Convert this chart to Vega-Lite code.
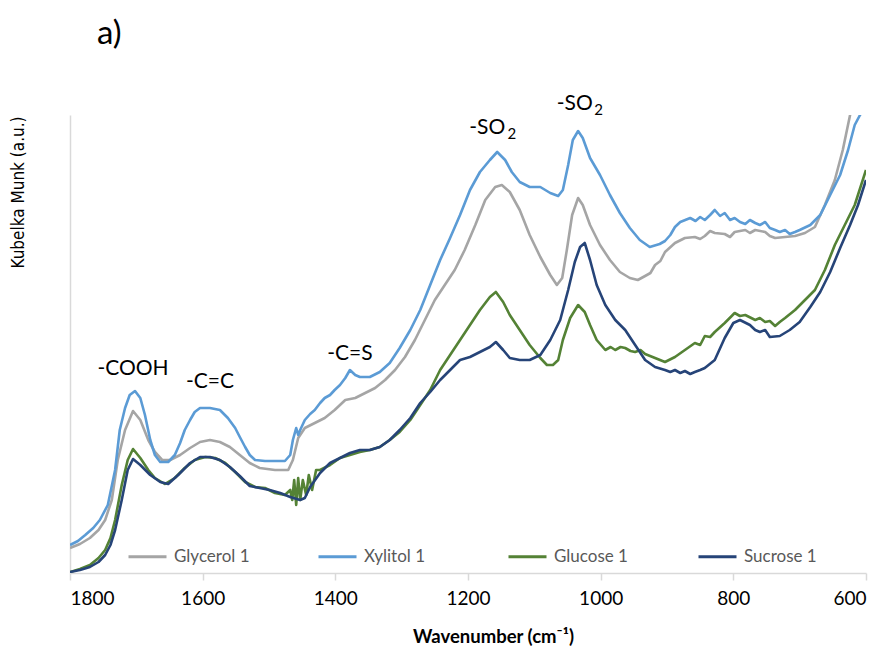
{
  "$schema": "https://vega.github.io/schema/vega-lite/v6.json",
  "width": 796,
  "height": 458,
  "autosize": {"type": "none"},
  "padding": {"left": 70, "top": 115, "right": 19, "bottom": 73},
  "background": "white",
  "title": {
    "text": "a)",
    "anchor": "start",
    "frame": "group",
    "dx": 27,
    "offset": 42,
    "fontSize": 33,
    "fontWeight": "normal",
    "font": "Lato, sans-serif",
    "color": "#000000"
  },
  "config": {
    "view": {"stroke": null},
    "font": "Lato, sans-serif"
  },
  "datasets": {
    "spectra": [
      {"s": "Glycerol 1", "wn": 1800, "km": 25}, {"s": "Glycerol 1", "wn": 1785, "km": 29}, {"s": "Glycerol 1", "wn": 1770, "km": 35}, {"s": "Glycerol 1", "wn": 1757, "km": 43}, {"s": "Glycerol 1", "wn": 1747, "km": 53}, {"s": "Glycerol 1", "wn": 1737, "km": 73}, {"s": "Glycerol 1", "wn": 1728, "km": 113}, {"s": "Glycerol 1", "wn": 1717, "km": 143}, {"s": "Glycerol 1", "wn": 1705, "km": 162}, {"s": "Glycerol 1", "wn": 1694, "km": 153}, {"s": "Glycerol 1", "wn": 1682, "km": 133}, {"s": "Glycerol 1", "wn": 1672, "km": 121}, {"s": "Glycerol 1", "wn": 1661, "km": 113}, {"s": "Glycerol 1", "wn": 1649, "km": 113}, {"s": "Glycerol 1", "wn": 1634, "km": 118}, {"s": "Glycerol 1", "wn": 1619, "km": 125}, {"s": "Glycerol 1", "wn": 1604, "km": 131}, {"s": "Glycerol 1", "wn": 1589, "km": 133}, {"s": "Glycerol 1", "wn": 1574, "km": 131}, {"s": "Glycerol 1", "wn": 1559, "km": 126}, {"s": "Glycerol 1", "wn": 1544, "km": 118}, {"s": "Glycerol 1", "wn": 1529, "km": 110}, {"s": "Glycerol 1", "wn": 1514, "km": 105}, {"s": "Glycerol 1", "wn": 1491, "km": 103}, {"s": "Glycerol 1", "wn": 1471, "km": 103}, {"s": "Glycerol 1", "wn": 1464, "km": 113}, {"s": "Glycerol 1", "wn": 1456, "km": 135}, {"s": "Glycerol 1", "wn": 1446, "km": 145}, {"s": "Glycerol 1", "wn": 1431, "km": 150}, {"s": "Glycerol 1", "wn": 1416, "km": 155}, {"s": "Glycerol 1", "wn": 1401, "km": 163}, {"s": "Glycerol 1", "wn": 1385, "km": 173}, {"s": "Glycerol 1", "wn": 1370, "km": 175}, {"s": "Glycerol 1", "wn": 1355, "km": 180}, {"s": "Glycerol 1", "wn": 1340, "km": 185}, {"s": "Glycerol 1", "wn": 1325, "km": 193}, {"s": "Glycerol 1", "wn": 1310, "km": 203}, {"s": "Glycerol 1", "wn": 1295, "km": 216}, {"s": "Glycerol 1", "wn": 1280, "km": 233}, {"s": "Glycerol 1", "wn": 1265, "km": 253}, {"s": "Glycerol 1", "wn": 1250, "km": 273}, {"s": "Glycerol 1", "wn": 1235, "km": 288}, {"s": "Glycerol 1", "wn": 1220, "km": 303}, {"s": "Glycerol 1", "wn": 1205, "km": 323}, {"s": "Glycerol 1", "wn": 1189, "km": 348}, {"s": "Glycerol 1", "wn": 1174, "km": 373}, {"s": "Glycerol 1", "wn": 1159, "km": 386}, {"s": "Glycerol 1", "wn": 1149, "km": 388}, {"s": "Glycerol 1", "wn": 1137, "km": 381}, {"s": "Glycerol 1", "wn": 1122, "km": 363}, {"s": "Glycerol 1", "wn": 1107, "km": 338}, {"s": "Glycerol 1", "wn": 1091, "km": 316}, {"s": "Glycerol 1", "wn": 1076, "km": 298}, {"s": "Glycerol 1", "wn": 1066, "km": 288}, {"s": "Glycerol 1", "wn": 1058, "km": 295}, {"s": "Glycerol 1", "wn": 1051, "km": 323}, {"s": "Glycerol 1", "wn": 1043, "km": 358}, {"s": "Glycerol 1", "wn": 1034, "km": 375}, {"s": "Glycerol 1", "wn": 1027, "km": 368}, {"s": "Glycerol 1", "wn": 1016, "km": 348}, {"s": "Glycerol 1", "wn": 1001, "km": 328}, {"s": "Glycerol 1", "wn": 986, "km": 313}, {"s": "Glycerol 1", "wn": 971, "km": 301}, {"s": "Glycerol 1", "wn": 956, "km": 295}, {"s": "Glycerol 1", "wn": 944, "km": 293}, {"s": "Glycerol 1", "wn": 933, "km": 297}, {"s": "Glycerol 1", "wn": 925, "km": 300}, {"s": "Glycerol 1", "wn": 918, "km": 308}, {"s": "Glycerol 1", "wn": 910, "km": 312}, {"s": "Glycerol 1", "wn": 903, "km": 321}, {"s": "Glycerol 1", "wn": 888, "km": 330}, {"s": "Glycerol 1", "wn": 873, "km": 335}, {"s": "Glycerol 1", "wn": 858, "km": 336}, {"s": "Glycerol 1", "wn": 850, "km": 334}, {"s": "Glycerol 1", "wn": 843, "km": 337}, {"s": "Glycerol 1", "wn": 835, "km": 342}, {"s": "Glycerol 1", "wn": 828, "km": 340}, {"s": "Glycerol 1", "wn": 813, "km": 339}, {"s": "Glycerol 1", "wn": 805, "km": 336}, {"s": "Glycerol 1", "wn": 798, "km": 341}, {"s": "Glycerol 1", "wn": 782, "km": 343}, {"s": "Glycerol 1", "wn": 775, "km": 340}, {"s": "Glycerol 1", "wn": 767, "km": 343}, {"s": "Glycerol 1", "wn": 752, "km": 341}, {"s": "Glycerol 1", "wn": 745, "km": 337}, {"s": "Glycerol 1", "wn": 737, "km": 335}, {"s": "Glycerol 1", "wn": 722, "km": 336}, {"s": "Glycerol 1", "wn": 707, "km": 337}, {"s": "Glycerol 1", "wn": 692, "km": 340}, {"s": "Glycerol 1", "wn": 677, "km": 346}, {"s": "Glycerol 1", "wn": 662, "km": 368}, {"s": "Glycerol 1", "wn": 647, "km": 393}, {"s": "Glycerol 1", "wn": 635, "km": 423}, {"s": "Glycerol 1", "wn": 624, "km": 458}, {"s": "Glycerol 1", "wn": 615, "km": 483},

      {"s": "Xylitol 1", "wn": 1800, "km": 28}, {"s": "Xylitol 1", "wn": 1788, "km": 32}, {"s": "Xylitol 1", "wn": 1777, "km": 38}, {"s": "Xylitol 1", "wn": 1765, "km": 45}, {"s": "Xylitol 1", "wn": 1755, "km": 53}, {"s": "Xylitol 1", "wn": 1743, "km": 68}, {"s": "Xylitol 1", "wn": 1732, "km": 103}, {"s": "Xylitol 1", "wn": 1725, "km": 143}, {"s": "Xylitol 1", "wn": 1717, "km": 165}, {"s": "Xylitol 1", "wn": 1710, "km": 178}, {"s": "Xylitol 1", "wn": 1702, "km": 182}, {"s": "Xylitol 1", "wn": 1694, "km": 175}, {"s": "Xylitol 1", "wn": 1687, "km": 158}, {"s": "Xylitol 1", "wn": 1679, "km": 133}, {"s": "Xylitol 1", "wn": 1672, "km": 118}, {"s": "Xylitol 1", "wn": 1664, "km": 111}, {"s": "Xylitol 1", "wn": 1652, "km": 111}, {"s": "Xylitol 1", "wn": 1642, "km": 118}, {"s": "Xylitol 1", "wn": 1634, "km": 130}, {"s": "Xylitol 1", "wn": 1627, "km": 143}, {"s": "Xylitol 1", "wn": 1619, "km": 153}, {"s": "Xylitol 1", "wn": 1612, "km": 161}, {"s": "Xylitol 1", "wn": 1604, "km": 165}, {"s": "Xylitol 1", "wn": 1589, "km": 165}, {"s": "Xylitol 1", "wn": 1574, "km": 163}, {"s": "Xylitol 1", "wn": 1562, "km": 155}, {"s": "Xylitol 1", "wn": 1551, "km": 145}, {"s": "Xylitol 1", "wn": 1544, "km": 136}, {"s": "Xylitol 1", "wn": 1536, "km": 126}, {"s": "Xylitol 1", "wn": 1529, "km": 118}, {"s": "Xylitol 1", "wn": 1521, "km": 113}, {"s": "Xylitol 1", "wn": 1506, "km": 112}, {"s": "Xylitol 1", "wn": 1491, "km": 112}, {"s": "Xylitol 1", "wn": 1476, "km": 112}, {"s": "Xylitol 1", "wn": 1468, "km": 118}, {"s": "Xylitol 1", "wn": 1464, "km": 133}, {"s": "Xylitol 1", "wn": 1459, "km": 145}, {"s": "Xylitol 1", "wn": 1456, "km": 138}, {"s": "Xylitol 1", "wn": 1453, "km": 143}, {"s": "Xylitol 1", "wn": 1446, "km": 153}, {"s": "Xylitol 1", "wn": 1438, "km": 159}, {"s": "Xylitol 1", "wn": 1431, "km": 163}, {"s": "Xylitol 1", "wn": 1423, "km": 170}, {"s": "Xylitol 1", "wn": 1416, "km": 175}, {"s": "Xylitol 1", "wn": 1408, "km": 178}, {"s": "Xylitol 1", "wn": 1401, "km": 183}, {"s": "Xylitol 1", "wn": 1393, "km": 188}, {"s": "Xylitol 1", "wn": 1385, "km": 195}, {"s": "Xylitol 1", "wn": 1378, "km": 203}, {"s": "Xylitol 1", "wn": 1370, "km": 198}, {"s": "Xylitol 1", "wn": 1363, "km": 196}, {"s": "Xylitol 1", "wn": 1348, "km": 196}, {"s": "Xylitol 1", "wn": 1333, "km": 201}, {"s": "Xylitol 1", "wn": 1318, "km": 210}, {"s": "Xylitol 1", "wn": 1303, "km": 225}, {"s": "Xylitol 1", "wn": 1287, "km": 243}, {"s": "Xylitol 1", "wn": 1272, "km": 263}, {"s": "Xylitol 1", "wn": 1257, "km": 288}, {"s": "Xylitol 1", "wn": 1242, "km": 313}, {"s": "Xylitol 1", "wn": 1227, "km": 335}, {"s": "Xylitol 1", "wn": 1212, "km": 358}, {"s": "Xylitol 1", "wn": 1197, "km": 383}, {"s": "Xylitol 1", "wn": 1182, "km": 401}, {"s": "Xylitol 1", "wn": 1167, "km": 413}, {"s": "Xylitol 1", "wn": 1156, "km": 421}, {"s": "Xylitol 1", "wn": 1144, "km": 413}, {"s": "Xylitol 1", "wn": 1134, "km": 401}, {"s": "Xylitol 1", "wn": 1122, "km": 391}, {"s": "Xylitol 1", "wn": 1107, "km": 386}, {"s": "Xylitol 1", "wn": 1091, "km": 386}, {"s": "Xylitol 1", "wn": 1076, "km": 380}, {"s": "Xylitol 1", "wn": 1064, "km": 377}, {"s": "Xylitol 1", "wn": 1057, "km": 383}, {"s": "Xylitol 1", "wn": 1049, "km": 408}, {"s": "Xylitol 1", "wn": 1042, "km": 433}, {"s": "Xylitol 1", "wn": 1034, "km": 442}, {"s": "Xylitol 1", "wn": 1027, "km": 435}, {"s": "Xylitol 1", "wn": 1016, "km": 415}, {"s": "Xylitol 1", "wn": 1001, "km": 398}, {"s": "Xylitol 1", "wn": 986, "km": 378}, {"s": "Xylitol 1", "wn": 971, "km": 360}, {"s": "Xylitol 1", "wn": 956, "km": 345}, {"s": "Xylitol 1", "wn": 941, "km": 333}, {"s": "Xylitol 1", "wn": 926, "km": 326}, {"s": "Xylitol 1", "wn": 911, "km": 329}, {"s": "Xylitol 1", "wn": 903, "km": 332}, {"s": "Xylitol 1", "wn": 895, "km": 338}, {"s": "Xylitol 1", "wn": 888, "km": 346}, {"s": "Xylitol 1", "wn": 880, "km": 351}, {"s": "Xylitol 1", "wn": 865, "km": 355}, {"s": "Xylitol 1", "wn": 857, "km": 352}, {"s": "Xylitol 1", "wn": 850, "km": 356}, {"s": "Xylitol 1", "wn": 843, "km": 353}, {"s": "Xylitol 1", "wn": 835, "km": 358}, {"s": "Xylitol 1", "wn": 828, "km": 363}, {"s": "Xylitol 1", "wn": 820, "km": 357}, {"s": "Xylitol 1", "wn": 813, "km": 360}, {"s": "Xylitol 1", "wn": 805, "km": 353}, {"s": "Xylitol 1", "wn": 798, "km": 355}, {"s": "Xylitol 1", "wn": 790, "km": 351}, {"s": "Xylitol 1", "wn": 782, "km": 349}, {"s": "Xylitol 1", "wn": 775, "km": 353}, {"s": "Xylitol 1", "wn": 767, "km": 350}, {"s": "Xylitol 1", "wn": 760, "km": 348}, {"s": "Xylitol 1", "wn": 752, "km": 351}, {"s": "Xylitol 1", "wn": 745, "km": 345}, {"s": "Xylitol 1", "wn": 737, "km": 343}, {"s": "Xylitol 1", "wn": 730, "km": 341}, {"s": "Xylitol 1", "wn": 722, "km": 343}, {"s": "Xylitol 1", "wn": 715, "km": 339}, {"s": "Xylitol 1", "wn": 707, "km": 341}, {"s": "Xylitol 1", "wn": 700, "km": 343}, {"s": "Xylitol 1", "wn": 684, "km": 348}, {"s": "Xylitol 1", "wn": 669, "km": 358}, {"s": "Xylitol 1", "wn": 654, "km": 378}, {"s": "Xylitol 1", "wn": 639, "km": 398}, {"s": "Xylitol 1", "wn": 627, "km": 423}, {"s": "Xylitol 1", "wn": 617, "km": 448}, {"s": "Xylitol 1", "wn": 609, "km": 458}, {"s": "Xylitol 1", "wn": 600, "km": 468},

      {"s": "Glucose 1", "wn": 1800, "km": 1}, {"s": "Glucose 1", "wn": 1785, "km": 4}, {"s": "Glucose 1", "wn": 1770, "km": 8}, {"s": "Glucose 1", "wn": 1757, "km": 15}, {"s": "Glucose 1", "wn": 1747, "km": 23}, {"s": "Glucose 1", "wn": 1739, "km": 35}, {"s": "Glucose 1", "wn": 1732, "km": 53}, {"s": "Glucose 1", "wn": 1722, "km": 88}, {"s": "Glucose 1", "wn": 1713, "km": 113}, {"s": "Glucose 1", "wn": 1705, "km": 124}, {"s": "Glucose 1", "wn": 1694, "km": 115}, {"s": "Glucose 1", "wn": 1682, "km": 103}, {"s": "Glucose 1", "wn": 1672, "km": 95}, {"s": "Glucose 1", "wn": 1657, "km": 89}, {"s": "Glucose 1", "wn": 1642, "km": 95}, {"s": "Glucose 1", "wn": 1627, "km": 105}, {"s": "Glucose 1", "wn": 1612, "km": 113}, {"s": "Glucose 1", "wn": 1596, "km": 116}, {"s": "Glucose 1", "wn": 1581, "km": 115}, {"s": "Glucose 1", "wn": 1566, "km": 110}, {"s": "Glucose 1", "wn": 1551, "km": 101}, {"s": "Glucose 1", "wn": 1536, "km": 91}, {"s": "Glucose 1", "wn": 1521, "km": 86}, {"s": "Glucose 1", "wn": 1506, "km": 85}, {"s": "Glucose 1", "wn": 1491, "km": 80}, {"s": "Glucose 1", "wn": 1476, "km": 78}, {"s": "Glucose 1", "wn": 1468, "km": 83}, {"s": "Glucose 1", "wn": 1465, "km": 73}, {"s": "Glucose 1", "wn": 1462, "km": 93}, {"s": "Glucose 1", "wn": 1459, "km": 68}, {"s": "Glucose 1", "wn": 1456, "km": 95}, {"s": "Glucose 1", "wn": 1453, "km": 73}, {"s": "Glucose 1", "wn": 1449, "km": 93}, {"s": "Glucose 1", "wn": 1444, "km": 78}, {"s": "Glucose 1", "wn": 1440, "km": 98}, {"s": "Glucose 1", "wn": 1435, "km": 83}, {"s": "Glucose 1", "wn": 1429, "km": 103}, {"s": "Glucose 1", "wn": 1423, "km": 103}, {"s": "Glucose 1", "wn": 1408, "km": 108}, {"s": "Glucose 1", "wn": 1393, "km": 115}, {"s": "Glucose 1", "wn": 1378, "km": 118}, {"s": "Glucose 1", "wn": 1363, "km": 121}, {"s": "Glucose 1", "wn": 1348, "km": 123}, {"s": "Glucose 1", "wn": 1333, "km": 126}, {"s": "Glucose 1", "wn": 1318, "km": 133}, {"s": "Glucose 1", "wn": 1303, "km": 141}, {"s": "Glucose 1", "wn": 1287, "km": 153}, {"s": "Glucose 1", "wn": 1272, "km": 168}, {"s": "Glucose 1", "wn": 1257, "km": 183}, {"s": "Glucose 1", "wn": 1242, "km": 203}, {"s": "Glucose 1", "wn": 1227, "km": 218}, {"s": "Glucose 1", "wn": 1212, "km": 233}, {"s": "Glucose 1", "wn": 1197, "km": 248}, {"s": "Glucose 1", "wn": 1182, "km": 263}, {"s": "Glucose 1", "wn": 1167, "km": 276}, {"s": "Glucose 1", "wn": 1158, "km": 281}, {"s": "Glucose 1", "wn": 1147, "km": 271}, {"s": "Glucose 1", "wn": 1137, "km": 258}, {"s": "Glucose 1", "wn": 1122, "km": 243}, {"s": "Glucose 1", "wn": 1107, "km": 228}, {"s": "Glucose 1", "wn": 1091, "km": 215}, {"s": "Glucose 1", "wn": 1081, "km": 208}, {"s": "Glucose 1", "wn": 1072, "km": 208}, {"s": "Glucose 1", "wn": 1064, "km": 213}, {"s": "Glucose 1", "wn": 1057, "km": 233}, {"s": "Glucose 1", "wn": 1046, "km": 255}, {"s": "Glucose 1", "wn": 1034, "km": 268}, {"s": "Glucose 1", "wn": 1024, "km": 261}, {"s": "Glucose 1", "wn": 1016, "km": 248}, {"s": "Glucose 1", "wn": 1006, "km": 233}, {"s": "Glucose 1", "wn": 993, "km": 223}, {"s": "Glucose 1", "wn": 985, "km": 226}, {"s": "Glucose 1", "wn": 978, "km": 223}, {"s": "Glucose 1", "wn": 970, "km": 226}, {"s": "Glucose 1", "wn": 963, "km": 225}, {"s": "Glucose 1", "wn": 955, "km": 222}, {"s": "Glucose 1", "wn": 948, "km": 221}, {"s": "Glucose 1", "wn": 940, "km": 223}, {"s": "Glucose 1", "wn": 933, "km": 219}, {"s": "Glucose 1", "wn": 918, "km": 215}, {"s": "Glucose 1", "wn": 903, "km": 211}, {"s": "Glucose 1", "wn": 888, "km": 216}, {"s": "Glucose 1", "wn": 873, "km": 223}, {"s": "Glucose 1", "wn": 858, "km": 230}, {"s": "Glucose 1", "wn": 850, "km": 228}, {"s": "Glucose 1", "wn": 843, "km": 237}, {"s": "Glucose 1", "wn": 835, "km": 236}, {"s": "Glucose 1", "wn": 828, "km": 241}, {"s": "Glucose 1", "wn": 813, "km": 250}, {"s": "Glucose 1", "wn": 798, "km": 260}, {"s": "Glucose 1", "wn": 790, "km": 257}, {"s": "Glucose 1", "wn": 782, "km": 258}, {"s": "Glucose 1", "wn": 767, "km": 253}, {"s": "Glucose 1", "wn": 760, "km": 255}, {"s": "Glucose 1", "wn": 752, "km": 251}, {"s": "Glucose 1", "wn": 745, "km": 252}, {"s": "Glucose 1", "wn": 737, "km": 247}, {"s": "Glucose 1", "wn": 730, "km": 251}, {"s": "Glucose 1", "wn": 722, "km": 255}, {"s": "Glucose 1", "wn": 707, "km": 263}, {"s": "Glucose 1", "wn": 692, "km": 273}, {"s": "Glucose 1", "wn": 677, "km": 283}, {"s": "Glucose 1", "wn": 662, "km": 303}, {"s": "Glucose 1", "wn": 647, "km": 328}, {"s": "Glucose 1", "wn": 632, "km": 348}, {"s": "Glucose 1", "wn": 617, "km": 368}, {"s": "Glucose 1", "wn": 600, "km": 403},

      {"s": "Sucrose 1", "wn": 1800, "km": 1}, {"s": "Sucrose 1", "wn": 1785, "km": 3}, {"s": "Sucrose 1", "wn": 1770, "km": 6}, {"s": "Sucrose 1", "wn": 1757, "km": 11}, {"s": "Sucrose 1", "wn": 1747, "km": 18}, {"s": "Sucrose 1", "wn": 1739, "km": 28}, {"s": "Sucrose 1", "wn": 1732, "km": 43}, {"s": "Sucrose 1", "wn": 1722, "km": 73}, {"s": "Sucrose 1", "wn": 1713, "km": 103}, {"s": "Sucrose 1", "wn": 1705, "km": 114}, {"s": "Sucrose 1", "wn": 1694, "km": 108}, {"s": "Sucrose 1", "wn": 1679, "km": 98}, {"s": "Sucrose 1", "wn": 1664, "km": 91}, {"s": "Sucrose 1", "wn": 1652, "km": 89}, {"s": "Sucrose 1", "wn": 1637, "km": 98}, {"s": "Sucrose 1", "wn": 1619, "km": 110}, {"s": "Sucrose 1", "wn": 1604, "km": 116}, {"s": "Sucrose 1", "wn": 1589, "km": 116}, {"s": "Sucrose 1", "wn": 1574, "km": 113}, {"s": "Sucrose 1", "wn": 1559, "km": 106}, {"s": "Sucrose 1", "wn": 1544, "km": 97}, {"s": "Sucrose 1", "wn": 1529, "km": 87}, {"s": "Sucrose 1", "wn": 1514, "km": 85}, {"s": "Sucrose 1", "wn": 1499, "km": 83}, {"s": "Sucrose 1", "wn": 1483, "km": 80}, {"s": "Sucrose 1", "wn": 1468, "km": 76}, {"s": "Sucrose 1", "wn": 1453, "km": 73}, {"s": "Sucrose 1", "wn": 1446, "km": 75}, {"s": "Sucrose 1", "wn": 1438, "km": 86}, {"s": "Sucrose 1", "wn": 1423, "km": 100}, {"s": "Sucrose 1", "wn": 1408, "km": 110}, {"s": "Sucrose 1", "wn": 1393, "km": 115}, {"s": "Sucrose 1", "wn": 1378, "km": 120}, {"s": "Sucrose 1", "wn": 1363, "km": 123}, {"s": "Sucrose 1", "wn": 1348, "km": 123}, {"s": "Sucrose 1", "wn": 1333, "km": 126}, {"s": "Sucrose 1", "wn": 1318, "km": 133}, {"s": "Sucrose 1", "wn": 1303, "km": 143}, {"s": "Sucrose 1", "wn": 1287, "km": 155}, {"s": "Sucrose 1", "wn": 1272, "km": 170}, {"s": "Sucrose 1", "wn": 1257, "km": 181}, {"s": "Sucrose 1", "wn": 1242, "km": 193}, {"s": "Sucrose 1", "wn": 1227, "km": 203}, {"s": "Sucrose 1", "wn": 1212, "km": 213}, {"s": "Sucrose 1", "wn": 1197, "km": 216}, {"s": "Sucrose 1", "wn": 1182, "km": 221}, {"s": "Sucrose 1", "wn": 1167, "km": 226}, {"s": "Sucrose 1", "wn": 1158, "km": 231}, {"s": "Sucrose 1", "wn": 1147, "km": 223}, {"s": "Sucrose 1", "wn": 1137, "km": 215}, {"s": "Sucrose 1", "wn": 1122, "km": 213}, {"s": "Sucrose 1", "wn": 1107, "km": 213}, {"s": "Sucrose 1", "wn": 1091, "km": 218}, {"s": "Sucrose 1", "wn": 1076, "km": 233}, {"s": "Sucrose 1", "wn": 1061, "km": 253}, {"s": "Sucrose 1", "wn": 1049, "km": 283}, {"s": "Sucrose 1", "wn": 1039, "km": 311}, {"s": "Sucrose 1", "wn": 1031, "km": 326}, {"s": "Sucrose 1", "wn": 1024, "km": 330}, {"s": "Sucrose 1", "wn": 1016, "km": 313}, {"s": "Sucrose 1", "wn": 1006, "km": 288}, {"s": "Sucrose 1", "wn": 993, "km": 268}, {"s": "Sucrose 1", "wn": 978, "km": 253}, {"s": "Sucrose 1", "wn": 963, "km": 243}, {"s": "Sucrose 1", "wn": 948, "km": 228}, {"s": "Sucrose 1", "wn": 933, "km": 213}, {"s": "Sucrose 1", "wn": 918, "km": 206}, {"s": "Sucrose 1", "wn": 903, "km": 203}, {"s": "Sucrose 1", "wn": 895, "km": 201}, {"s": "Sucrose 1", "wn": 888, "km": 203}, {"s": "Sucrose 1", "wn": 880, "km": 200}, {"s": "Sucrose 1", "wn": 873, "km": 202}, {"s": "Sucrose 1", "wn": 865, "km": 199}, {"s": "Sucrose 1", "wn": 858, "km": 201}, {"s": "Sucrose 1", "wn": 850, "km": 203}, {"s": "Sucrose 1", "wn": 843, "km": 205}, {"s": "Sucrose 1", "wn": 828, "km": 213}, {"s": "Sucrose 1", "wn": 813, "km": 235}, {"s": "Sucrose 1", "wn": 800, "km": 250}, {"s": "Sucrose 1", "wn": 790, "km": 253}, {"s": "Sucrose 1", "wn": 775, "km": 248}, {"s": "Sucrose 1", "wn": 767, "km": 243}, {"s": "Sucrose 1", "wn": 760, "km": 241}, {"s": "Sucrose 1", "wn": 752, "km": 243}, {"s": "Sucrose 1", "wn": 745, "km": 236}, {"s": "Sucrose 1", "wn": 730, "km": 237}, {"s": "Sucrose 1", "wn": 715, "km": 243}, {"s": "Sucrose 1", "wn": 700, "km": 251}, {"s": "Sucrose 1", "wn": 684, "km": 266}, {"s": "Sucrose 1", "wn": 669, "km": 281}, {"s": "Sucrose 1", "wn": 654, "km": 301}, {"s": "Sucrose 1", "wn": 639, "km": 325}, {"s": "Sucrose 1", "wn": 624, "km": 348}, {"s": "Sucrose 1", "wn": 612, "km": 368}, {"s": "Sucrose 1", "wn": 600, "km": 393}
    ],
    "bands": [
      {"label": "-COOH", "wn": 1705, "km": 204},
      {"label": "-C=C", "wn": 1589, "km": 191},
      {"label": "-C=S", "wn": 1378, "km": 219},
      {"label": "-SO", "wn": 1171, "km": 445},
      {"label": "-SO", "wn": 1039, "km": 469}
    ],
    "subscripts": [
      {"label": "2", "wn": 1134, "km": 439},
      {"label": "2", "wn": 1003, "km": 463}
    ]
  },
  "layer": [
    {
      "data": {"name": "spectra"},
      "mark": {"type": "line", "strokeWidth": 2.6, "clip": true, "strokeJoin": "round"},
      "encoding": {
        "x": {
          "field": "wn",
          "type": "quantitative",
          "scale": {"domain": [600, 1800], "reverse": true, "nice": false, "zero": false},
          "axis": {
            "values": [1800, 1600, 1400, 1200, 1000, 800, 600],
            "format": "d",
            "grid": false,
            "domainColor": "#d9d9d9",
            "domainWidth": 1.5,
            "tickColor": "#d9d9d9",
            "tickWidth": 1.5,
            "tickSize": 7,
            "labelFontSize": 19,
            "labelColor": "#000000",
            "labelPadding": 9,
            "labelFont": "Lato, sans-serif",
            "title": "Wavenumber (cm⁻¹)",
            "titleFontSize": 18.5,
            "titleFontWeight": "bold",
            "titleColor": "#000000",
            "titlePadding": 19,
            "titleX": 423,
            "titleFont": "Lato, sans-serif"
          }
        },
        "y": {
          "field": "km",
          "type": "quantitative",
          "scale": {"domain": [0, 458], "nice": false, "zero": false},
          "axis": {
            "labels": false,
            "ticks": false,
            "grid": false,
            "domainColor": "#d9d9d9",
            "domainWidth": 1.5,
            "title": "Kubelka Munk (a.u.)",
            "titleFontSize": 17,
            "titleFontWeight": "normal",
            "titleColor": "#000000",
            "titleFont": "Liberation Sans Narrow, DejaVu Sans Condensed, sans-serif",
            "titleX": -43,
            "titleY": 77
          }
        },
        "color": {
          "field": "s",
          "type": "nominal",
          "scale": {
            "domain": ["Glycerol 1", "Xylitol 1", "Glucose 1", "Sucrose 1"],
            "range": ["#a5a5a5", "#5b9bd5", "#548235", "#264478"]
          },
          "legend": {
            "title": null,
            "orient": "none",
            "direction": "horizontal",
            "legendX": 57,
            "legendY": 421,
            "symbolType": "stroke",
            "symbolSize": 1444,
            "symbolStrokeWidth": 3,
            "labelFontSize": 17,
            "labelColor": "#595959",
            "labelOffset": 6,
            "labelFont": "Lato, sans-serif",
            "gridAlign": "all",
            "columnPadding": 62
          }
        }
      }
    },
    {
      "data": {"name": "bands"},
      "mark": {"type": "text", "fontSize": 21, "font": "Lato, sans-serif", "color": "#000000", "align": "center", "baseline": "middle"},
      "encoding": {
        "x": {"field": "wn", "type": "quantitative"},
        "y": {"field": "km", "type": "quantitative"},
        "text": {"field": "label"}
      }
    },
    {
      "data": {"name": "subscripts"},
      "mark": {"type": "text", "fontSize": 15, "font": "Lato, sans-serif", "color": "#000000", "align": "center", "baseline": "middle"},
      "encoding": {
        "x": {"field": "wn", "type": "quantitative"},
        "y": {"field": "km", "type": "quantitative"},
        "text": {"field": "label"}
      }
    }
  ]
}
